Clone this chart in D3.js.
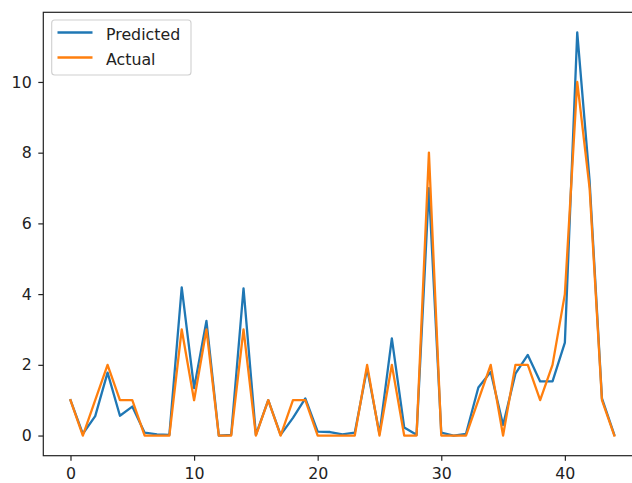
<!DOCTYPE html>
<html>
<head>
<meta charset="utf-8">
<script src="https://cdn.jsdelivr.net/npm/d3@7"></script>
<style>
  html, body { margin: 0; padding: 0; background: #fff; }
  svg { display: block; }
  text { font-family: "DejaVu Sans", sans-serif; }
</style>
</head>
<body>
<svg id="chart" width="632" height="483"></svg>
<script>
const index = d3.range(0, 45);
const predicted = [1.0, 0.05, 0.55, 1.78, 0.56, 0.82, 0.08, 0.03, 0.02, 4.19,
  1.34, 3.24, 0.0, 0.02, 4.16, 0.02, 1.0, 0.02, 0.5, 1.05,
  0.11, 0.1, 0.03, 0.08, 1.9, 0.05, 2.75, 0.23, 0.02, 7.0,
  0.08, 0.0, 0.05, 1.36, 1.8, 0.3, 1.75, 2.28, 1.53, 1.53,
  2.63, 11.4, 7.2, 1.05, 0.02];
const actual = [1, 0, 1, 2, 1, 1, 0, 0, 0, 3,
  1, 3, 0, 0, 3, 0, 1, 0, 1, 1,
  0, 0, 0, 0, 2, 0, 2, 0, 0, 8,
  0, 0, 0, 1, 2, 0, 2, 2, 1, 2,
  4, 10, 7, 1, 0];
const xTicks = [0, 10, 20, 30, 40];
const yTicks = [0, 2, 4, 6, 8, 10];
const seriesNames = ["Predicted", "Actual"];
const seriesColors = ["#1f77b4", "#ff7f0e"];

const svg = d3.select("#chart");
const mLeft = 43.3, mRight = 641.5, mTop = 12.3, mBottom = 455.7;
const fontPx = "15.8px";

const x = d3.scaleLinear().domain([-2.2, 46.2]).range([mLeft, mRight]);
const y = d3.scaleLinear().domain([-0.57, 11.97]).range([mBottom, mTop]);

const line = d3.line().x((d, i) => x(index[i])).y(d => y(d));

const plot = svg.append("g");
[predicted, actual].forEach((s, k) => {
  plot.append("path")
    .datum(s)
    .attr("fill", "none")
    .attr("stroke", seriesColors[k])
    .attr("stroke-width", 2.3)
    .attr("stroke-linejoin", "round")
    .attr("stroke-linecap", "square")
    .attr("d", line);
});

// axes
const xAxis = d3.axisBottom(x).tickValues(xTicks).tickSize(5).tickPadding(7.5).tickFormat(d3.format("d"));
const yAxis = d3.axisLeft(y).tickValues(yTicks).tickSize(5).tickPadding(6.6).tickFormat(d3.format("d"));

const gx = svg.append("g").attr("transform", `translate(0,${mBottom})`).call(xAxis);
const gy = svg.append("g").attr("transform", `translate(${mLeft},0)`).call(yAxis);
[gx, gy].forEach(g => {
  g.select(".domain").remove();
  g.selectAll("line").attr("stroke", "#222").attr("stroke-width", 1.2);
  g.selectAll("text").attr("fill", "#222").style("font-size", fontPx).style("font-family", "DejaVu Sans, sans-serif");
});

// spines
svg.append("rect")
  .attr("x", mLeft).attr("y", mTop)
  .attr("width", mRight - mLeft).attr("height", mBottom - mTop)
  .attr("fill", "none").attr("stroke", "#222").attr("stroke-width", 1.2);

// legend
const lg = svg.append("g");
lg.append("rect")
  .attr("x", 51.7).attr("y", 20).attr("width", 139.3).attr("height", 55)
  .attr("rx", 3).attr("ry", 3)
  .attr("fill", "#fff").attr("fill-opacity", 0.8)
  .attr("stroke", "#d0d0d0").attr("stroke-width", 1.1);
seriesNames.forEach((name, k) => {
  const yy = 32.5 + k * 25;
  lg.append("line")
    .attr("x1", 57.5).attr("x2", 92.5).attr("y1", yy).attr("y2", yy)
    .attr("stroke", seriesColors[k]).attr("stroke-width", 2.3);
  lg.append("text")
    .attr("x", 106).attr("y", yy + 7.6)
    .attr("fill", "#222")
    .style("font-size", fontPx)
    .text(name);
});
</script>
</body>
</html>
